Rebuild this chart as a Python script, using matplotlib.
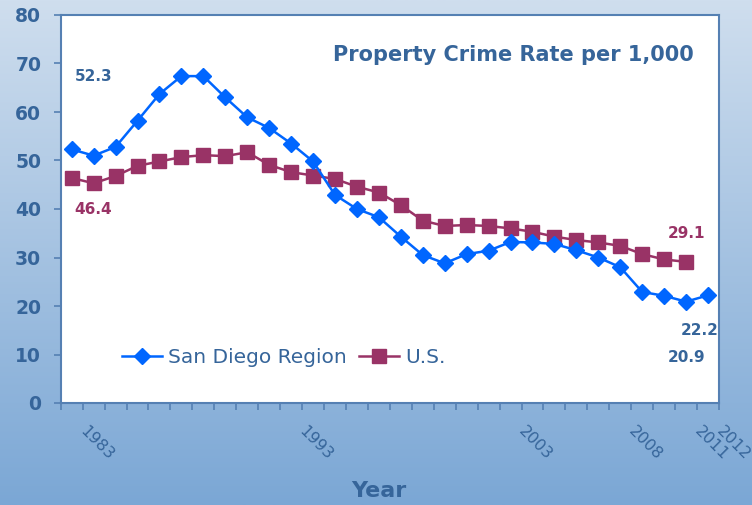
import matplotlib
matplotlib.use("Agg")
import matplotlib.pyplot as plt
import matplotlib.transforms as mtransforms
import numpy as np
from matplotlib.colors import LinearSegmentedColormap

years_sd = list(range(1983, 2013))
san_diego = [52.3, 51.0, 52.8, 58.2, 63.7, 67.4, 67.4, 63.0, 58.9, 56.7,
             53.5, 49.8, 42.9, 40.0, 38.3, 34.3, 30.5, 28.8, 30.7, 31.4,
             33.2, 33.1, 32.8, 31.5, 30.0, 28.0, 22.9, 22.1, 20.9, 22.2]
years_us = list(range(1983, 2012))
us = [46.4, 45.3, 46.8, 48.9, 49.8, 50.7, 51.1, 50.9, 51.7, 49.1,
      47.6, 46.9, 46.2, 44.6, 43.4, 40.8, 37.6, 36.5, 36.7, 36.5,
      36.0, 35.3, 34.3, 33.6, 33.1, 32.4, 30.7, 29.6, 29.1]
tick_years = [1983, 1993, 2003, 2008, 2011, 2012]
y_ticks = [0, 10, 20, 30, 40, 50, 60, 70, 80]

TXT = "#36659a"
BLUE = "#0066ff"
MAROON = "#993366"
SPINE = "#5580b3"

fig = plt.figure(figsize=(7.52, 5.05), dpi=100)

# background gradient
bg = fig.add_axes([0, 0, 1, 1], zorder=-10)
cmap = LinearSegmentedColormap.from_list("g", ["#cfdeee", "#7ba7d5"])
grad = np.linspace(0, 1, 256).reshape(-1, 1)
bg.imshow(grad, aspect="auto", cmap=cmap, extent=[0, 1, 0, 1], origin="upper")
bg.axis("off")

ax = fig.add_axes([60.7/752, 1-403/505, (719-60.7)/752, (403-15)/505])
ax.set_facecolor("white")

ax.plot(years_sd, san_diego, color=BLUE, lw=1.8, marker="D", markersize=8,
        label="San Diego Region", zorder=4)
ax.plot(years_us, us, color=MAROON, lw=1.8, marker="s", markersize=10,
        label="U.S.", zorder=3)

ax.set_xlim(1982.5, 2012.5)
ax.set_ylim(0, 80)
ax.set_yticks(y_ticks)
ax.set_yticklabels([str(v) for v in y_ticks], color=TXT, fontsize=13.5, fontweight="bold")

# category-style x axis: ticks between years, labels on selected years
ax.set_xticks(np.arange(1982.5, 2013, 1.0))
ax.set_xticklabels([])
ax.tick_params(axis="x", length=5, color=SPINE, width=1.2)
ax.tick_params(axis="y", length=5, color=SPINE, width=1.2, pad=9)
base = mtransforms.blended_transform_factory(ax.transData, ax.transAxes)
offset = mtransforms.ScaledTranslation(25/100, -40/100, fig.dpi_scale_trans)
for yr in tick_years:
    ax.text(yr, 0, str(yr), transform=base + offset, rotation=-45,
            rotation_mode="anchor", ha="center", va="center",
            color=TXT, fontsize=11.5, clip_on=False)

for s in ax.spines.values():
    s.set_color(SPINE)
    s.set_linewidth(1.5)

ax.set_xlabel("Year", color=TXT, fontsize=16, fontweight="bold")
ax.xaxis.set_label_coords(0.483, -0.2)

ax.text(0.962, 0.898, "Property Crime Rate per 1,000", transform=ax.transAxes,
        ha="right", va="center", color=TXT, fontsize=15, fontweight="bold")

ann = dict(fontsize=11, fontweight="bold", ha="center", va="center")
ax.text(years_sd[1], 67.3, f"{san_diego[0]}", color=TXT, **ann)
ax.text(years_us[1], 39.8, f"{us[0]}", color=MAROON, **ann)
ax.text(years_us[-1], 35.0, f"{us[-1]}", color=MAROON, **ann)
ax.text(years_sd[-1] - 0.4, 15.0, f"{san_diego[-1]}", color=TXT, **ann)
ax.text(years_sd[-2], 9.3, f"{san_diego[-2]}", color=TXT, **ann)

leg = ax.legend(loc="center left", bbox_to_anchor=(0.065, 0.118), ncol=2, frameon=False,
                fontsize=14.5, handlelength=2.0, columnspacing=0.6, handletextpad=0.3)
for t in leg.get_texts():
    t.set_color(TXT)

fig.savefig("out.png", dpi=100)
